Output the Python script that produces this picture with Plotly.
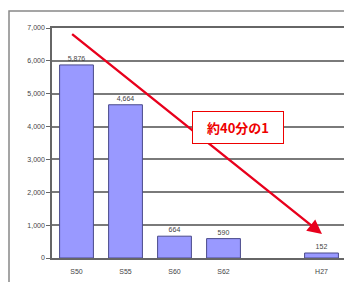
import plotly.graph_objects as go

categories = ["S50", "S55", "S60", "S62", " ", "H27"]
values = [5876, 4664, 664, 590, None, 152]
labels = ["5,876", "4,664", "664", "590", "", "152"]
y_ticks = [0, 1000, 2000, 3000, 4000, 5000, 6000, 7000]
y_tick_text = ["0", "1,000", "2,000", "3,000", "4,000", "5,000", "6,000", "7,000"]
arrow_start = (-0.12, 6850)
arrow_end = (5.01, 730)
note_text = "約40分の1"

# page body adds an 8px offset; figure is sized to compensate
W, H = 344, 274
L, R, T, B = 44, 6, 20, 24
pw, ph = W - L - R, H - T - B

fig = go.Figure()
fig.add_trace(go.Bar(
    x=categories, y=values, text=labels, textposition="outside",
    textfont=dict(size=7, color="#444444", family="Liberation Sans"),
    marker=dict(color="#9999FF", line=dict(color="#4a4a8a", width=1)),
    cliponaxis=False,
))

fig.update_layout(
    width=W, height=H,
    margin=dict(l=L, r=R, t=T, b=B, autoexpand=False),
    paper_bgcolor="white", plot_bgcolor="white",
    showlegend=False, bargap=0.31,
    font=dict(family="Liberation Sans", size=7, color="#444444"),
    xaxis=dict(type="category", categoryorder="array", categoryarray=categories,
               range=[-0.5, 5.5], showline=True, mirror=True, linecolor="#666666",
               linewidth=1.5, ticks="", showgrid=False, ticklabelstandoff=6,
               tickfont=dict(size=7, color="#444444")),
    yaxis=dict(range=[0, 7000], tickmode="array", tickvals=y_ticks, ticktext=y_tick_text,
               showline=True, mirror=True, linecolor="#666666", linewidth=1.5,
               ticks="outside", ticklen=4, tickcolor="#666666",
               showgrid=True, gridcolor="#7a7a7a", gridwidth=2,
               tickfont=dict(size=7, color="#444444"), zeroline=False),
)

# outer chart border
fig.add_shape(type="rect", xref="paper", yref="paper",
              x0=-(L - 1) / pw, x1=1 + 4 / pw, y0=-(B + 20) / ph, y1=1 + (T - 3) / ph,
              line=dict(color="#888888", width=1.5), fillcolor="rgba(0,0,0,0)",
              layer="above")

fig.add_annotation(
    x=arrow_end[0], y=arrow_end[1], ax=arrow_start[0], ay=arrow_start[1],
    xref="x", yref="y", axref="x", ayref="y", text="",
    showarrow=True, arrowhead=2, arrowsize=1.2, arrowwidth=2.4, arrowcolor="#E8001C",
)

fig.add_annotation(
    x=3.3, y=3970, xref="x", yref="y", text="<b>" + note_text + "</b>",
    showarrow=False, font=dict(size=13, color="#EE0000", family="Noto Sans CJK JP"),
    bgcolor="white", bordercolor="#EE0000", borderwidth=1,
    width=88, height=29, align="center",
)

fig.write_html("out.html")
